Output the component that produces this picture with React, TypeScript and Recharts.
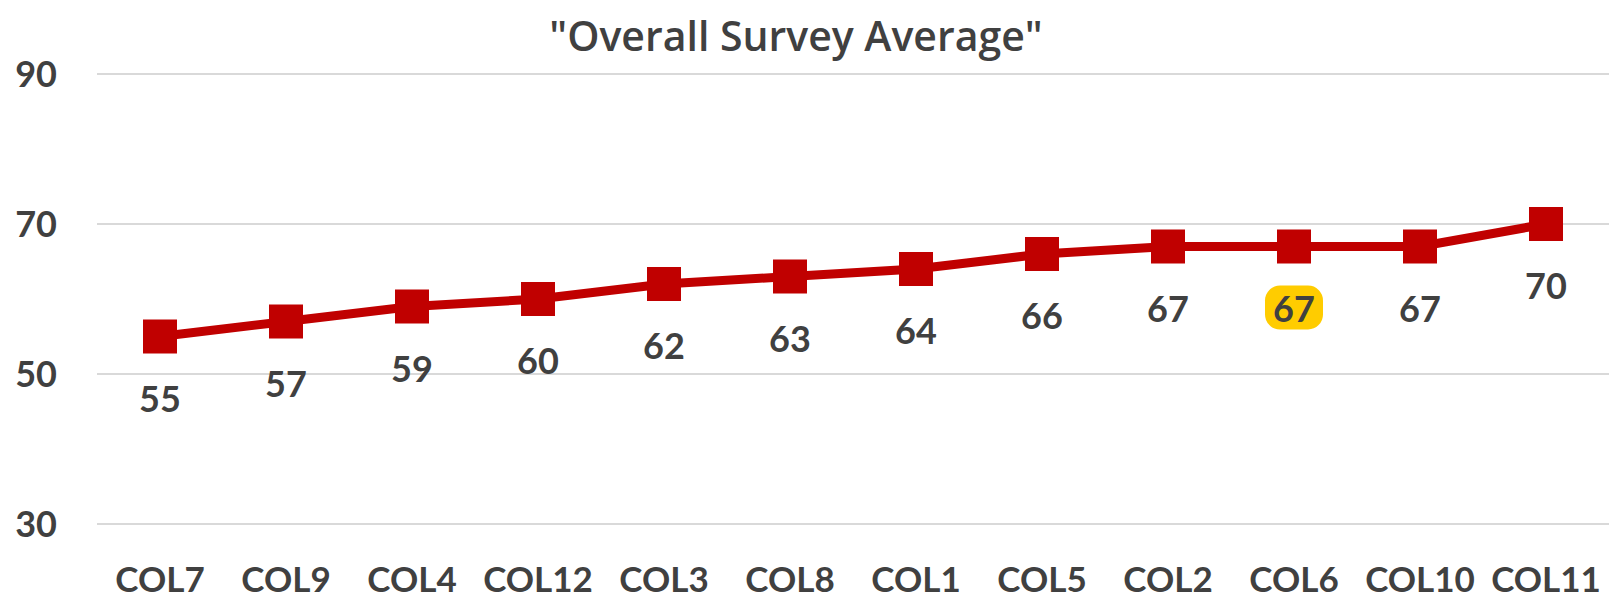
import React from 'react';
import { LineChart, Line, XAxis, YAxis, CartesianGrid, LabelList } from 'recharts';

const categories = ['COL7', 'COL9', 'COL4', 'COL12', 'COL3', 'COL8', 'COL1', 'COL5', 'COL2', 'COL6', 'COL10', 'COL11'];
const averages = [55, 57, 59, 60, 62, 63, 64, 66, 67, 67, 67, 70];
const yTicks = [30, 50, 70, 90];
const highlighted = ['COL6'];
const title = '"Overall Survey Average"';

const data = categories.map((name, i) => ({ name, value: averages[i] }));

const FONT = 'Lato, "Open Sans", sans-serif';
const TEXT = '#404040';

const SquareDot = (props: any) => {
  const { cx, cy } = props;
  if (cx == null || cy == null) return null;
  const s = 34;
  return <rect x={cx - s / 2} y={cy - s / 2} width={s} height={s} fill="#C00000" />;
};

const ValueLabel = (props: any) => {
  const { x, y, value, index } = props;
  const ly = y + 61;
  const isHi = highlighted.includes(categories[index]);
  return (
    <g>
      {isHi && <rect x={x - 29} y={ly - 22} width={58} height={44} rx={15} ry={15} fill="#FFCC00" />}
      <text x={x} y={ly} textAnchor="middle" dominantBaseline="central" fontFamily={FONT} fontWeight={700} fontSize={36} fill={TEXT}>
        {value}
      </text>
    </g>
  );
};

export default function App() {
  return (
    <div style={{ position: 'absolute', left: 0, top: 0, width: 1614, height: 601, background: '#fff' }}>
      <div
        style={{
          position: 'absolute',
          left: 0,
          top: 9,
          width: 1592,
          textAlign: 'center',
          fontFamily: '"Open Sans", Lato, sans-serif',
          fontWeight: 600,
          fontSize: 41,
          color: TEXT,
          lineHeight: '52px',
        }}
      >
        {title}
      </div>
      <LineChart width={1614} height={601} data={data} margin={{ top: 74, right: 5, bottom: 0, left: 0 }}>
        <CartesianGrid vertical={false} stroke="#d9d9d9" strokeWidth={2} />
        <XAxis
          dataKey="name"
          axisLine={false}
          tickLine={false}
          tickSize={0}
          tickMargin={43}
          height={77}
          interval={0}
          padding={{ left: 63, right: 63 }}
          tick={{ fontFamily: FONT, fontWeight: 700, fontSize: 35, fill: TEXT }}
        />
        <YAxis
          domain={[30, 90]}
          ticks={yTicks}
          axisLine={false}
          tickLine={false}
          tickSize={0}
          tickMargin={40}
          width={97}
          tick={{ fontFamily: FONT, fontWeight: 700, fontSize: 36, fill: TEXT }}
        />
        <Line
          dataKey="value"
          stroke="#C00000"
          strokeWidth={9}
          dot={<SquareDot />}
          activeDot={false}
          isAnimationActive={false}
        >
          <LabelList dataKey="value" content={<ValueLabel />} />
        </Line>
      </LineChart>
    </div>
  );
}
